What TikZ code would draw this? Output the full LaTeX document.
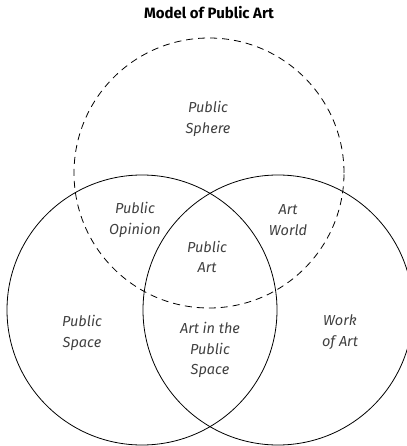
\documentclass[tikz,border=0pt]{standalone}
\usepackage{fontspec}
\setmainfont{Fira Sans}
\begin{document}
\begin{tikzpicture}[x=1bp,y=-1bp,
  ring/.style={draw=black, line width=0.8bp, circle, minimum size=270bp, inner sep=0pt},
  dashring/.style={ring, dash pattern=on 7bp off 5bp},
  label/.style={font=\fontsize{14.5bp}{20.5bp}\selectfont\itshape, text=black!75, align=center, inner sep=0pt},
  heading/.style={font=\fontsize{15bp}{17bp}\selectfont\bfseries, text=black, inner sep=0pt}]
  \useasboundingbox (0,0) rectangle (406,446);

  % the three overlapping spheres
  \node[dashring] (sphere) at (209,173) {};
  \node[ring] (space) at (142,310) {};
  \node[ring] (work) at (278,310) {};

  % title
  \node[heading] (title) at (209,13) {Model of Public Art};

  % region labels
  \node[label] (lsphere) at (208,119) {Public\\Sphere};
  \node[label] (lopinion) at (135,220) {Public\\Opinion};
  \node[label] (lworld) at (288,220) {Art\\World};
  \node[label] (lart) at (207,257) {Public\\Art};
  \node[label] (lspace) at (82,333) {Public\\Space};
  \node[label] (linspace) at (210,350) {Art in the\\Public\\Space};
  \node[label] (lwork) at (340,332) {Work\\of Art};
\end{tikzpicture}
\end{document}
